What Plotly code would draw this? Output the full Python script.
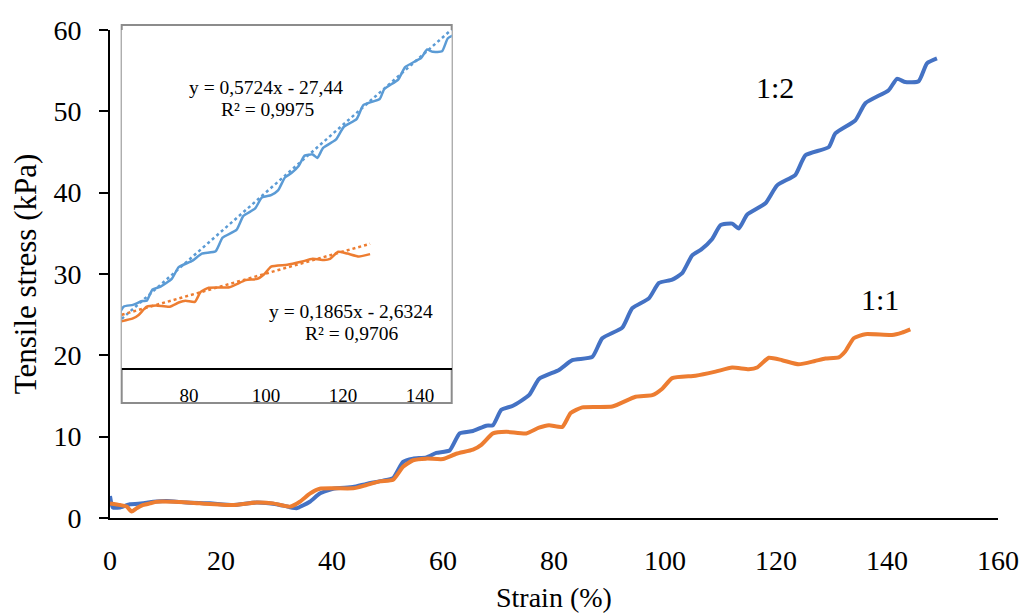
import plotly.graph_objects as go

# ---- data ----
strain_12 = [0, 0.5, 1.8, 3.6, 6, 7.8, 10.2, 13.8, 18, 22.2, 26.4, 30, 33.6, 36, 37.8,
             40.2, 43.8, 46.2, 49.2, 51, 52.8, 54.6, 57, 58.8, 61.2, 63, 65.4, 67.8, 69,
             70.5, 72.6, 75.5, 77.3, 80.9, 83.3, 86.9, 88.7, 92.3, 94.1, 97.1, 98.9, 101.3,
             103.1, 104.9, 106.5, 108.5, 110, 112.1, 113.3, 114.8, 118.1, 120.2, 123.5,
             125.3, 129.5, 130.7, 134.3, 136.1, 140.3, 141.8, 143.3, 145.7, 147.2, 149]
stress_12 = [2.7, 1.3, 1.3, 1.7, 1.8, 2.0, 2.1, 1.9, 1.8, 1.6, 1.9, 1.7, 1.2, 2.0, 3.0,
             3.6, 3.8, 4.2, 4.6, 4.9, 6.9, 7.3, 7.45, 8.0, 8.3, 10.4, 10.7, 11.35, 11.4,
             13.3, 13.8, 15.1, 17.1, 18.2, 19.4, 19.8, 22.1, 23.4, 25.8, 27.0, 28.9, 29.3,
             30.1, 32.3, 33.0, 34.3, 36.0, 36.2, 35.6, 37.3, 38.7, 40.9, 42.2,
             44.6, 45.6, 47.3, 48.9, 51.0, 52.6, 54.0, 53.6, 53.7, 55.9, 56.5]

strain_11 = [0, 1.8, 3.0, 3.9, 4.8, 6, 7.2, 8.4, 11.4, 16.2, 22.2, 26.4, 29.4, 32.4, 34.2,
             36, 37.8, 40.2, 43.8, 46.2, 48.6, 51, 52.8, 54.6, 57, 60, 62.4, 65.4, 66.9,
             69, 71.4, 75, 77.3, 79.1, 81.5, 83, 85.1, 90.5, 94.7, 97.7, 99.5, 101.3,
             105.5, 109.1, 112.1, 115.1, 116.6, 118.7, 121.1, 124.1, 127, 128.9, 131.3,
             132.5, 134, 136.1, 140.9, 142.7, 144.2]
stress_11 = [1.8, 1.6, 1.4, 0.8, 1.2, 1.6, 1.8, 2.0, 2.0, 1.8, 1.6, 1.9, 1.8, 1.4, 2.0,
             3.0, 3.6, 3.65, 3.65, 4.05, 4.5, 4.7, 6.3, 7.1, 7.3, 7.25, 7.9, 8.4, 9.0,
             10.4, 10.6, 10.4, 11.1, 11.4, 11.2, 12.9, 13.6, 13.7, 14.9, 15.1, 15.9, 17.2,
             17.5, 18.0, 18.5, 18.3, 18.5, 19.7, 19.4, 18.9, 19.3, 19.6, 19.75,
             20.5, 22.1, 22.6, 22.5, 22.8, 23.2]

# linear fits shown in the inset
fit_12 = (0.5724, -27.44)
fit_11 = (0.1865, -2.6324)
inset_x_12 = (61.0, 150.0)
inset_x_11 = (61.0, 127.0)
fit_x_12 = [62.5, 148.5]
fit_x_11 = [62.5, 127.0]

main_xticks = [0, 20, 40, 60, 80, 100, 120, 140, 160]
main_yticks = [0, 10, 20, 30, 40, 50, 60]
inset_xticks = [80, 100, 120, 140]

BLUE = "#4472C4"
BLUE_L = "#5B9BD5"
ORANGE = "#ED7D31"
FONT = "Liberation Serif"

fig = go.Figure()

# main curves
fig.add_trace(go.Scatter(x=strain_12, y=stress_12, mode="lines",
                         line=dict(color=BLUE, width=4, shape="spline", smoothing=0.5),
                         name="1:2"))
fig.add_trace(go.Scatter(x=strain_11, y=stress_11, mode="lines",
                         line=dict(color=ORANGE, width=4, shape="spline", smoothing=0.5),
                         name="1:1"))

# inset curves
def subset(xs, ys, lo, hi):
    px, py = [], []
    for a, b in zip(xs, ys):
        if lo <= a <= hi:
            px.append(a)
            py.append(b)
    return px, py

bx, by = subset(strain_12, stress_12, *inset_x_12)
ox, oy = subset(strain_11, stress_11, *inset_x_11)
fig.add_trace(go.Scatter(x=bx, y=by, mode="lines", xaxis="x2", yaxis="y2",
                         line=dict(color=BLUE_L, width=2.5, shape="spline", smoothing=0.5)))
fig.add_trace(go.Scatter(x=ox, y=oy, mode="lines", xaxis="x2", yaxis="y2",
                         line=dict(color=ORANGE, width=2.5, shape="spline", smoothing=0.5)))
fig.add_trace(go.Scatter(x=fit_x_12, y=[fit_12[0] * v + fit_12[1] for v in fit_x_12],
                         mode="lines", xaxis="x2", yaxis="y2",
                         line=dict(color=BLUE_L, width=2.5, dash="dot")))
fig.add_trace(go.Scatter(x=fit_x_11, y=[fit_11[0] * v + fit_11[1] for v in fit_x_11],
                         mode="lines", xaxis="x2", yaxis="y2",
                         line=dict(color=ORANGE, width=2.5, dash="dot")))

W, H = 1034, 615
ml, mr, mt, mb = 110, 36, 30, 97
pw, ph = W - ml - mr, H - mt - mb

def pxx(p):
    return (p - ml) / pw

def pxy(p):
    return (H - mb - p) / ph

EQ = dict(size=19.5, family=FONT)

fig.update_layout(
    width=W, height=H,
    margin=dict(l=ml, r=mr, t=mt, b=mb),
    paper_bgcolor="white", plot_bgcolor="white",
    showlegend=False,
    font=dict(family=FONT, color="black"),
    xaxis=dict(range=[0, 160], tickvals=main_xticks, showgrid=False, zeroline=False,
               showline=True, linecolor="black", linewidth=2, ticks="", automargin=False,
               ticklabelstandoff=16, tickfont=dict(size=28, family=FONT)),
    yaxis=dict(range=[0, 60], tickvals=main_yticks, showgrid=False, zeroline=False,
               showline=True, linecolor="black", linewidth=2, ticks="outside",
               ticklen=9, tickwidth=2, tickcolor="black", automargin=False,
               ticklabelstandoff=12, tickfont=dict(size=28, family=FONT),
               title=dict(text="Tensile stress (kPa)", font=dict(size=31, family=FONT),
                          standoff=8)),
    xaxis2=dict(domain=[pxx(121.7), pxx(451.7)], anchor="y2", range=[62.5, 148.2],
                tickvals=inset_xticks, showgrid=False, zeroline=False, showline=True,
                linecolor="black", linewidth=1.5, ticks="", ticklabelstandoff=9,
                tickfont=dict(size=19, family=FONT)),
    yaxis2=dict(domain=[pxy(368), 1.0], anchor="x2", range=[0, 57.3],
                showgrid=False, zeroline=False, showline=False, showticklabels=False,
                ticks=""),
    shapes=[dict(type="rect", xref="paper", yref="paper",
                 x0=pxx(121.7), x1=pxx(451.7), y0=pxy(403), y1=pxy(25),
                 line=dict(color="#8c8c8c", width=2), fillcolor="white", layer="below")],
    annotations=[
        dict(text="Strain (%)", xref="paper", yref="paper", x=pxx(554), y=pxy(597),
             xanchor="center", yanchor="middle", showarrow=False,
             font=dict(size=28, family=FONT)),
        dict(text="y = 0,5724x - 27,44", xref="paper", yref="paper", x=pxx(266), y=pxy(88),
             xanchor="center", yanchor="middle", showarrow=False, font=EQ),
        dict(text="R² = 0,9975", xref="paper", yref="paper", x=pxx(267), y=pxy(109),
             xanchor="center", yanchor="middle", showarrow=False, font=EQ),
        dict(text="y = 0,1865x - 2,6324", xref="paper", yref="paper", x=pxx(351), y=pxy(312),
             xanchor="center", yanchor="middle", showarrow=False, font=EQ),
        dict(text="R² = 0,9706", xref="paper", yref="paper", x=pxx(351), y=pxy(333),
             xanchor="center", yanchor="middle", showarrow=False, font=EQ),
        dict(text="1:2", x=119.8, y=52.9, xref="x", yref="y", showarrow=False,
             xanchor="center", yanchor="middle", font=dict(size=30, family=FONT)),
        dict(text="1:1", x=138.7, y=26.9, xref="x", yref="y", showarrow=False,
             xanchor="center", yanchor="middle", font=dict(size=30, family=FONT)),
    ],
)

fig.write_html("out.html")
